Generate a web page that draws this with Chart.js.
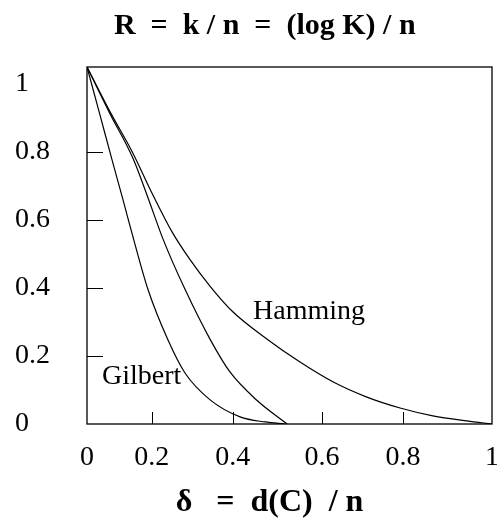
<!DOCTYPE html>
<html>
<head>
<meta charset="utf-8">
<script src="https://cdn.jsdelivr.net/npm/chart.js@4.4.0/dist/chart.umd.min.js"></script>
<style>
  body { margin: 0; background: #fff; }
  canvas { display: block; }
</style>
</head>
<body>
<canvas id="boundsChart" width="497" height="525"></canvas>
<script>
// en spaces widen the gaps and nudge the titles off centre like in the source
var titleText = '\u2002 R\u2002=\u2002k / n\u2002=\u2002(log K) / n';
var xTitleText = '\u03b4\u2002 =\u2002d(C)\u2002/ n\u2002\u2002 ';

// tick labels (the x ticks in the source are not evenly spaced)
var xTickValues = [0, 0.16, 0.36, 0.58, 0.78, 1];
var xTickLabels = ['0', '0.2', '0.4', '0.6', '0.8', '1'];
var yTickValues = [0, 0.2, 0.4, 0.6, 0.8, 1];
var yTickLabels = ['0', '0.2', '0.4', '0.6', '0.8', '1'];

// Gilbert curve
var gilbertDelta = [0, 0.032, 0.062, 0.089, 0.119, 0.151, 0.2, 0.242, 0.304, 0.378, 0.44, 0.489];
var gilbertRate = [1.05, 0.909, 0.776, 0.659, 0.526, 0.394, 0.247, 0.15, 0.071, 0.021, 0.006, 0];

// middle curve (no label)
var middleDelta = [0, 0.057, 0.114, 0.151, 0.188, 0.242, 0.304, 0.353, 0.42, 0.494];
var middleRate = [1.05, 0.912, 0.78, 0.664, 0.543, 0.396, 0.249, 0.153, 0.069, 0];

// Hamming curve
var hammingDelta = [0, 0.057, 0.114, 0.156, 0.21, 0.254, 0.304, 0.36, 0.444, 0.526, 0.607, 0.691, 0.773, 0.854, 0.938, 1];
var hammingRate = [1.05, 0.918, 0.795, 0.69, 0.565, 0.484, 0.405, 0.33, 0.25, 0.182, 0.124, 0.079, 0.047, 0.024, 0.009, 0];

// curve names written inside the plot
var curveNames = ['Gilbert', 'Hamming'];
var curveNameDelta = [0.037, 0.41];
var curveNameRate = [0.14, 0.33];

var serif = 'Liberation Serif, Times New Roman, serif';

function toPoints(xs, ys) {
  var pts = [];
  for (var i = 0; i < xs.length; i++) {
    pts.push({ x: xs[i], y: ys[i] });
  }
  return pts;
}

function curve(label, xs, ys) {
  return {
    label: label,
    data: toPoints(xs, ys),
    showLine: true,
    borderColor: '#000',
    borderWidth: 1.2,
    pointRadius: 0,
    cubicInterpolationMode: 'monotone',
    fill: false
  };
}

// box, inner tick marks and curve names
var framePlugin = {
  id: 'frame',
  afterDraw: function (chart) {
    var ctx = chart.ctx;
    var area = chart.chartArea;
    var xs = chart.scales.x;
    var ys = chart.scales.y;
    ctx.save();
    ctx.strokeStyle = '#000';
    ctx.lineWidth = 1.3;
    ctx.strokeRect(area.left, area.top, area.right - area.left, area.bottom - area.top);

    ctx.lineWidth = 1;
    for (var i = 1; i < yTickValues.length - 1; i++) {
      var py = Math.round(ys.getPixelForValue(yTickValues[i])) + 0.5;
      ctx.beginPath();
      ctx.moveTo(area.left, py);
      ctx.lineTo(area.left + 16, py);
      ctx.stroke();
    }
    for (var j = 1; j < xTickValues.length - 1; j++) {
      var px = Math.round(xs.getPixelForValue(xTickValues[j])) + 0.5;
      ctx.beginPath();
      ctx.moveTo(px, area.bottom);
      ctx.lineTo(px, area.bottom - 12);
      ctx.stroke();
    }

    ctx.fillStyle = '#000';
    ctx.font = '28px ' + serif;
    ctx.textAlign = 'left';
    ctx.textBaseline = 'middle';
    for (var k = 0; k < curveNames.length; k++) {
      ctx.fillText(curveNames[k], xs.getPixelForValue(curveNameDelta[k]), ys.getPixelForValue(curveNameRate[k]));
    }
    ctx.restore();
  }
};

var ctx = document.getElementById('boundsChart');
var chart = new Chart(ctx, {
  type: 'scatter',
  data: {
    datasets: [
      curve('Gilbert', gilbertDelta, gilbertRate),
      curve('middle', middleDelta, middleRate),
      curve('Hamming', hammingDelta, hammingRate)
    ]
  },
  options: {
    responsive: false,
    animation: false,
    layout: {
      autoPadding: false,
      padding: { left: 15, right: 5, top: 0, bottom: 0 }
    },
    plugins: {
      legend: { display: false },
      tooltip: { enabled: false },
      title: {
        display: true,
        text: titleText,
        color: '#000',
        font: { family: serif, size: 30, weight: 'bold' },
        padding: { top: 8, bottom: 23 }
      }
    },
    scales: {
      x: {
        type: 'linear',
        min: 0,
        max: 1,
        grid: { display: false, drawTicks: false },
        border: { display: false },
        afterBuildTicks: function (scale) {
          scale.ticks = xTickValues.map(function (v) { return { value: v }; });
        },
        afterFit: function (scale) {
          scale.height = 101;
          scale.paddingLeft = 0;
          scale.paddingRight = 0;
        },
        ticks: {
          color: '#000',
          padding: 17,
          maxRotation: 0,
          autoSkip: false,
          font: { family: serif, size: 28 },
          callback: function (value, index) {
            return xTickLabels[index];
          }
        },
        title: {
          display: true,
          text: xTitleText,
          color: '#000',
          font: { family: serif, size: 32, weight: 'bold' },
          padding: { top: 8, bottom: 3 }
        }
      },
      y: {
        type: 'linear',
        min: 0,
        max: 1.05,
        grid: { display: false, drawTicks: false },
        border: { display: false },
        afterBuildTicks: function (scale) {
          scale.ticks = yTickValues.map(function (v) { return { value: v }; });
        },
        afterFit: function (scale) {
          scale.width = 72;
          scale.paddingTop = 0;
          scale.paddingBottom = 0;
        },
        ticks: {
          color: '#000',
          crossAlign: 'far',
          autoSkip: false,
          font: { family: serif, size: 28 },
          callback: function (value, index) {
            return yTickLabels[index];
          }
        }
      }
    }
  },
  plugins: [framePlugin]
});
</script>
</body>
</html>
